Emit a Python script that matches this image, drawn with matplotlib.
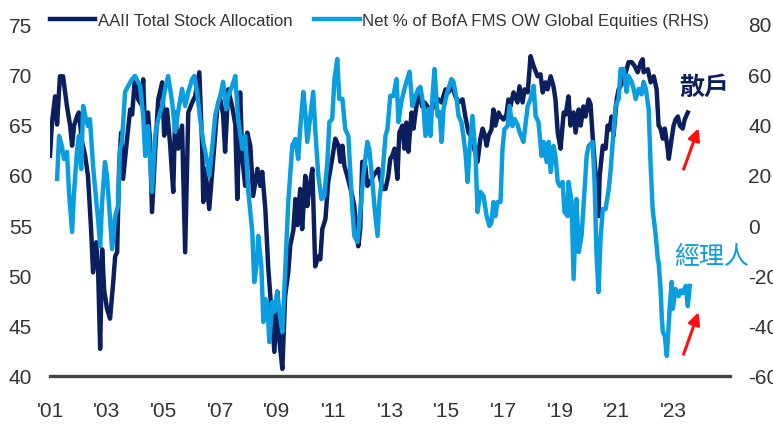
import matplotlib
matplotlib.use("Agg")
import matplotlib.pyplot as plt

# AAII Total Stock Allocation (%), left axis -- decimal year, value
aaii_t = [2001.00, 2001.07, 2001.18, 2001.25, 2001.35, 2001.46, 2001.60, 2001.71, 2001.78, 2001.85,
          2001.95, 2002.02, 2002.13, 2002.24, 2002.34, 2002.45, 2002.52, 2002.63, 2002.70, 2002.77,
          2002.84, 2002.91, 2003.01, 2003.12, 2003.23, 2003.30, 2003.37, 2003.44, 2003.51, 2003.58,
          2003.65, 2003.72, 2003.83, 2003.90, 2004.00, 2004.11, 2004.22, 2004.29, 2004.36, 2004.46,
          2004.53, 2004.60, 2004.71, 2004.82, 2004.96, 2005.03, 2005.13, 2005.24, 2005.35, 2005.42,
          2005.52, 2005.66, 2005.77, 2005.88, 2006.02, 2006.12, 2006.27, 2006.37, 2006.41, 2006.48,
          2006.62, 2006.76, 2006.90, 2007.01, 2007.11, 2007.18, 2007.29, 2007.43, 2007.54, 2007.61,
          2007.71, 2007.79, 2007.89, 2007.96, 2008.07, 2008.17, 2008.32, 2008.42, 2008.49, 2008.60,
          2008.70, 2008.85, 2008.92, 2009.02, 2009.09, 2009.20, 2009.30, 2009.41, 2009.48, 2009.59,
          2009.66, 2009.73, 2009.83, 2009.90, 2010.01, 2010.08, 2010.15, 2010.26, 2010.33, 2010.36,
          2010.47, 2010.54, 2010.61, 2010.72, 2010.82, 2010.96, 2011.07, 2011.18, 2011.25, 2011.32,
          2011.39, 2011.49, 2011.67, 2011.74, 2011.85, 2011.88, 2011.95, 2012.02, 2012.13, 2012.20,
          2012.31, 2012.41, 2012.59, 2012.73, 2012.84, 2012.94, 2013.01, 2013.08, 2013.16, 2013.26,
          2013.33, 2013.44, 2013.51, 2013.58, 2013.65, 2013.76, 2013.83, 2013.93, 2014.00, 2014.14,
          2014.22, 2014.32, 2014.43, 2014.57, 2014.71, 2014.82, 2014.96, 2015.06, 2015.20, 2015.31,
          2015.42, 2015.56, 2015.66, 2015.77, 2015.88, 2015.98, 2016.09, 2016.19, 2016.27, 2016.34,
          2016.41, 2016.48, 2016.58, 2016.65, 2016.72, 2016.83, 2016.90, 2017.01, 2017.11, 2017.18,
          2017.25, 2017.36, 2017.50, 2017.57, 2017.68, 2017.75, 2017.86, 2017.96, 2018.07, 2018.21,
          2018.31, 2018.39, 2018.49, 2018.56, 2018.67, 2018.77, 2018.84, 2018.92, 2019.02, 2019.13,
          2019.20, 2019.30, 2019.37, 2019.48, 2019.55, 2019.66, 2019.73, 2019.83, 2019.90, 2020.01,
          2020.08, 2020.15, 2020.26, 2020.36, 2020.40, 2020.51, 2020.61, 2020.68, 2020.75, 2020.82,
          2020.89, 2021.00, 2021.07, 2021.21, 2021.32, 2021.42, 2021.53, 2021.64, 2021.74, 2021.85,
          2021.92, 2021.95, 2022.10, 2022.20, 2022.31, 2022.41, 2022.48, 2022.55, 2022.63, 2022.70,
          2022.80, 2022.84, 2022.94, 2023.01, 2023.08, 2023.16, 2023.23, 2023.33, 2023.40, 2023.51]
aaii = [61.9, 65.2, 67.8, 65.0, 69.8, 69.8, 66.8, 64.9, 62.9, 64.9,
        65.8, 66.2, 63.3, 61.9, 59.9, 54.6, 50.3, 53.3, 50.3, 42.7,
        52.6, 48.6, 46.7, 45.7, 49.3, 51.9, 52.3, 60.9, 64.2, 59.6,
        61.6, 63.6, 66.5, 66.0, 69.8, 67.5, 67.0, 69.5, 63.6, 66.2,
        63.3, 56.3, 62.3, 67.5, 69.2, 63.9, 66.5, 63.0, 58.3, 66.2,
        62.6, 64.9, 52.3, 66.2, 67.2, 67.8, 70.2, 62.9, 57.3, 60.6,
        56.6, 61.6, 66.5, 67.5, 66.0, 62.3, 68.5, 66.8, 65.0, 57.6,
        68.2, 61.6, 58.9, 64.2, 62.9, 57.9, 60.6, 58.9, 60.3, 56.6,
        50.9, 45.0, 42.4, 48.4, 43.7, 40.7, 48.0, 50.3, 53.0, 54.5,
        57.6, 55.0, 58.6, 54.6, 59.9, 56.9, 58.6, 60.6, 53.9, 50.9,
        51.9, 51.6, 54.6, 55.6, 59.3, 61.6, 63.6, 62.9, 61.3, 62.9,
        60.9, 59.9, 57.9, 56.9, 53.6, 52.9, 54.6, 61.3, 60.9, 58.9,
        59.3, 59.9, 60.6, 58.6, 58.6, 59.9, 61.6, 61.9, 62.6, 59.6,
        64.2, 64.9, 62.6, 65.2, 62.3, 66.2, 64.6, 66.8, 68.2, 66.8,
        67.2, 66.8, 66.2, 67.0, 67.5, 67.2, 68.5, 68.2, 68.8, 67.8,
        67.2, 67.5, 65.8, 64.2, 63.8, 62.5, 61.3, 63.6, 64.6, 64.0,
        62.9, 63.9, 64.5, 66.5, 64.9, 66.2, 65.8, 65.5, 66.0, 67.5,
        66.8, 68.2, 67.2, 68.8, 67.2, 68.5, 68.2, 71.8, 70.8, 69.8,
        70.0, 68.2, 69.2, 68.5, 69.8, 68.8, 67.5, 64.2, 62.6, 66.2,
        66.0, 67.8, 64.9, 66.2, 64.2, 66.5, 64.9, 66.8, 65.8, 67.5,
        67.0, 63.9, 59.9, 55.9, 59.9, 62.9, 62.6, 64.9, 64.5, 65.8,
        63.9, 67.5, 68.5, 69.2, 70.2, 71.2, 71.2, 70.8, 70.2, 71.2,
        71.5, 70.2, 70.5, 69.2, 69.8, 68.5, 64.9, 64.6, 63.6, 64.6,
        62.6, 61.6, 63.6, 64.9, 65.5, 65.8, 64.9, 64.6, 65.5, 66.2]

# Net % of BofA FMS overweight global equities, right axis
fms_t = [2001.25, 2001.32, 2001.42, 2001.49, 2001.60, 2001.67, 2001.78, 2001.85, 2001.95, 2002.02,
         2002.10, 2002.17, 2002.27, 2002.34, 2002.41, 2002.52, 2002.63, 2002.70, 2002.77, 2002.84,
         2002.94, 2003.01, 2003.12, 2003.19, 2003.30, 2003.40, 2003.47, 2003.54, 2003.65, 2003.76,
         2003.90, 2004.00, 2004.18, 2004.29, 2004.36, 2004.46, 2004.60, 2004.71, 2004.82, 2004.96,
         2005.06, 2005.17, 2005.31, 2005.42, 2005.52, 2005.66, 2005.77, 2005.88, 2006.02, 2006.09,
         2006.19, 2006.30, 2006.41, 2006.55, 2006.62, 2006.72, 2006.83, 2006.94, 2007.01, 2007.11,
         2007.22, 2007.29, 2007.43, 2007.54, 2007.64, 2007.79, 2007.89, 2008.00, 2008.14, 2008.21,
         2008.32, 2008.35, 2008.46, 2008.53, 2008.60, 2008.67, 2008.74, 2008.85, 2008.92, 2009.02,
         2009.13, 2009.20, 2009.30, 2009.41, 2009.55, 2009.66, 2009.76, 2009.83, 2009.94, 2010.01,
         2010.08, 2010.19, 2010.29, 2010.36, 2010.47, 2010.58, 2010.68, 2010.79, 2010.86, 2010.96,
         2011.04, 2011.14, 2011.21, 2011.32, 2011.42, 2011.53, 2011.67, 2011.74, 2011.85, 2011.95,
         2012.06, 2012.20, 2012.27, 2012.38, 2012.45, 2012.56, 2012.63, 2012.73, 2012.84, 2012.91,
         2013.01, 2013.12, 2013.23, 2013.30, 2013.40, 2013.51, 2013.58, 2013.69, 2013.79, 2013.90,
         2014.00, 2014.07, 2014.18, 2014.25, 2014.36, 2014.43, 2014.50, 2014.57, 2014.68, 2014.75,
         2014.82, 2014.89, 2014.99, 2015.06, 2015.17, 2015.24, 2015.35, 2015.42, 2015.52, 2015.59,
         2015.66, 2015.74, 2015.81, 2015.91, 2016.02, 2016.09, 2016.19, 2016.30, 2016.41, 2016.51,
         2016.58, 2016.65, 2016.72, 2016.79, 2016.90, 2016.97, 2017.04, 2017.15, 2017.22, 2017.32,
         2017.40, 2017.50, 2017.57, 2017.71, 2017.86, 2017.96, 2018.07, 2018.14, 2018.24, 2018.35,
         2018.42, 2018.53, 2018.60, 2018.67, 2018.77, 2018.84, 2018.92, 2018.99, 2019.09, 2019.16,
         2019.27, 2019.30, 2019.41, 2019.48, 2019.58, 2019.66, 2019.76, 2019.83, 2019.94, 2020.01,
         2020.15, 2020.22, 2020.29, 2020.36, 2020.43, 2020.51, 2020.61, 2020.72, 2020.79, 2020.86,
         2020.96, 2021.07, 2021.14, 2021.25, 2021.35, 2021.42, 2021.53, 2021.60, 2021.67, 2021.78,
         2021.88, 2021.95, 2022.03, 2022.13, 2022.20, 2022.27, 2022.38, 2022.45, 2022.48, 2022.55,
         2022.59, 2022.63, 2022.70, 2022.77, 2022.80, 2022.87, 2022.94, 2022.98, 2023.08, 2023.19,
         2023.26, 2023.33, 2023.44, 2023.51, 2023.58]
fms = [18.4, 35.5, 31.5, 26.3, 29.1, 13.2, -2.7, 13.2, 29.1, 35.5,
       22.3, 47.4, 42.2, 39.4, 42.2, 23.5, 10.0, 2.0, -8.3, 9.2,
       25.1, 19.6, 2.5, -9.5, 3.6, 7.6, 30.3, 33.1, 53.0, 55.4,
       58.1, 59.3, 55.4, 43.4, 27.5, 39.4, 13.2, 35.5, 42.2, 47.4,
       54.2, 59.3, 49.0, 37.1, 45.0, 54.2, 47.4, 53.0, 58.1, 59.3,
       53.0, 42.2, 33.1, 25.1, 19.6, 30.3, 43.4, 49.0, 51.4, 57.0,
       46.2, 51.4, 55.4, 59.3, 42.2, 30.3, 35.5, 13.2, -2.7, -22.6,
       -13.5, -4.3, -16.2, -38.5, -29.4, -31.0, -46.5, -30.6, -34.5, -26.6,
       -37.3, -42.5, -18.6, 9.2, 31.5, 34.3, 26.3, 38.2, 53.0, 45.0,
       33.1, 43.4, 53.0, 38.2, 19.6, 10.4, 11.6, 25.1, 41.0, 42.2,
       58.1, 66.1, 50.2, 50.2, 38.2, 35.5, 6.4, -4.3, -6.7, 5.2,
       19.6, 33.1, 30.3, 17.2, 7.6, -4.3, 10.4, 19.6, 35.5, 38.2,
       51.4, 51.4, 58.1, 41.0, 49.0, 54.2, 57.0, 61.0, 47.4, 51.4,
       54.2, 55.0, 47.4, 35.5, 46.2, 35.5, 51.4, 62.1, 43.4, 45.0,
       33.1, 46.2, 51.4, 54.2, 58.1, 57.0, 50.2, 43.4, 41.0, 35.5,
       29.1, 17.2, 30.3, 43.4, 27.5, 5.2, 13.2, 11.6, 3.6, -0.3,
       1.0, 9.2, 3.6, 9.2, 9.2, 30.3, 38.2, 39.4, 47.4, 39.4,
       42.2, 40.0, 37.1, 33.1, 47.4, 50.2, 55.4, 43.4, 41.0, 27.5,
       33.1, 25.1, 33.1, 21.1, 31.5, 27.5, 17.2, 15.6, 17.2, 5.2,
       3.6, 17.2, 9.2, -21.4, 10.4, -10.7, -4.3, 7.6, 27.5, 31.5,
       33.1, 17.2, -12.3, -26.6, -5.5, 6.4, 6.4, 14.4, 22.3, 33.1,
       47.4, 50.2, 62.1, 62.1, 53.0, 59.3, 57.0, 54.2, 50.2, 54.2,
       52.0, 57.0, 54.2, 46.2, 23.5, 6.4, -4.3, -13.5, -14.7, -25.4,
       -36.1, -42.5, -44.1, -52.0, -46.5, -33.3, -22.6, -33.3, -25.4, -28.2,
       -26.0, -27.0, -24.2, -32.2, -24.2]

tick_years = [2001, 2003, 2005, 2007, 2009, 2011, 2013, 2015, 2017, 2019, 2021, 2023]
tick_labels = ["'01", "'03", "'05", "'07", "'09", "'11", "'13", "'15", "'17", "'19", "'21", "'23"]

navy = '#0b1f5e'
light = '#0a9de0'
plt.rcParams['font.family'] = ['Liberation Sans', 'DejaVu Sans']
plt.rcParams['axes.unicode_minus'] = False

fig = plt.figure(figsize=(7.73, 4.31), dpi=100)
ax = fig.add_axes([50 / 773, 54 / 431, 680 / 773, 352 / 431])
ax2 = ax.twinx()

l1, = ax.plot(aaii_t, aaii, color=navy, lw=3.2, solid_joinstyle='round',
              label='AAII Total Stock Allocation')
l2, = ax2.plot(fms_t, fms, color=light, lw=3.2, solid_joinstyle='round',
               label='Net % of BofA FMS OW Global Equities (RHS)')

ax.set_xlim(2001, 2025)
ax.set_ylim(40, 75)
ax2.set_ylim(-60, 80)
ax.set_yticks(range(40, 76, 5))
ax2.set_yticks(range(-60, 81, 20))
ax.set_xticks(tick_years)
ax.set_xticklabels(tick_labels)

for a in (ax, ax2):
    for s in a.spines.values():
        s.set_visible(False)
    a.tick_params(length=0, labelsize=15, colors='#333333')
ax.tick_params(axis='y', pad=13)
ax2.tick_params(axis='y', pad=13)
ax.tick_params(axis='x', pad=18)

# baseline
ax.axhline(40, color='#444444', lw=2.4, clip_on=False, zorder=5)

leg = ax2.legend(handles=[l1, l2], loc='center left', bbox_to_anchor=(0.0, 1.01),
                 ncol=2, frameon=False, fontsize=12.1, handlelength=2.7,
                 handletextpad=0.15, columnspacing=1.3, borderaxespad=0, borderpad=0)
for t in leg.get_texts():
    t.set_color('#333333')

# annotations
ax.text(2024.1, 68.8, '散戶', color=navy, fontsize=18, fontweight='bold',
        family=['Noto Sans CJK TC', 'DejaVu Sans'], ha='center', va='center')
ax.text(2024.36, 51.9, '經理人', color=light, fontsize=18,
        family=['Noto Sans CJK TC', 'DejaVu Sans'], ha='center', va='center')
arrow = dict(arrowstyle='-|>,head_length=0.7,head_width=0.35', color='#ff1010', lw=2.2)
ax.annotate('', xy=(2023.92, 64.9), xytext=(2023.33, 60.3), arrowprops=arrow)
ax.annotate('', xy=(2023.92, 46.6), xytext=(2023.33, 41.9), arrowprops=arrow)

fig.savefig('out.png', dpi=100)
